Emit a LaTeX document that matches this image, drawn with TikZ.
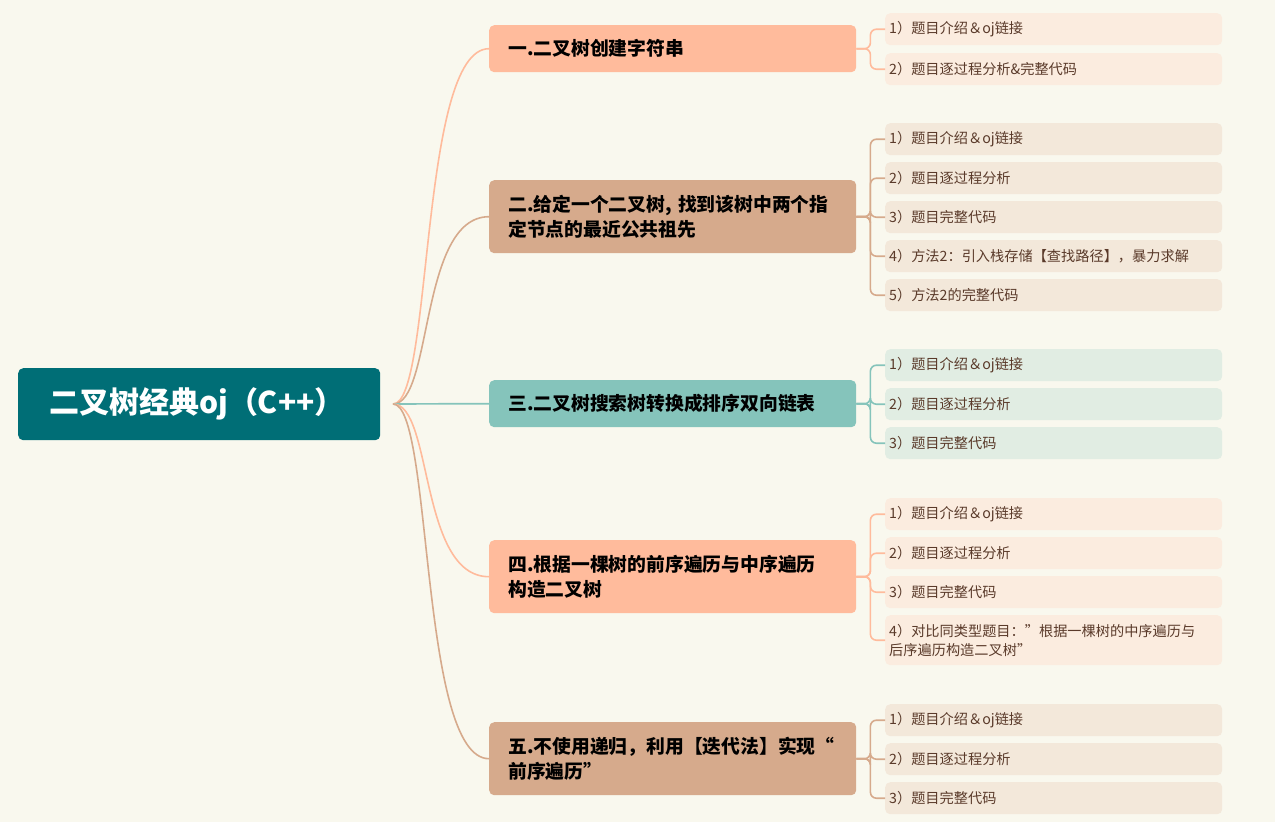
\documentclass[tikz,border=0pt]{standalone}
\usepackage{fontspec}
\setmainfont{Noto Sans CJK SC}
\begin{document}
\begin{tikzpicture}[x=1pt,y=-1pt,
  leaf/.style={fill=#1,rounded corners=5pt,minimum width=337pt,minimum height=32pt,text width=329pt,inner xsep=4pt,align=left,anchor=north west,font=\fontsize{14.2}{19}\selectfont,text=leaftxt},
  mainbox/.style={fill=#1,rounded corners=5pt,minimum width=367pt,text width=345pt,inner xsep=11pt,align=left,anchor=north west,font=\fontsize{18.8}{25}\selectfont\bfseries,text=black},
  conn/.style={draw=#1,line width=1.6pt},
  lconn/.style={draw=#1,line width=1.6pt,rounded corners=6pt}]
\definecolor{bg}{HTML}{F9F8EE}
\definecolor{roott}{HTML}{006E76}
\definecolor{salm}{HTML}{FFBB9C}
\definecolor{tan}{HTML}{D6AA8C}
\definecolor{teal}{HTML}{85C4BB}
\definecolor{lsalm}{HTML}{FBECDF}
\definecolor{ltan}{HTML}{F3E8DA}
\definecolor{lteal}{HTML}{E1EDE3}
\definecolor{leaftxt}{HTML}{5A3A2A}
\fill[bg] (0,0) rectangle (1275,822);
\useasboundingbox (0,0) rectangle (1275,822);
\node[fill=roott,rounded corners=5pt,minimum width=362pt,minimum height=72pt,text width=330pt,inner xsep=16pt,align=left,anchor=north west,font=\fontsize{30}{32}\selectfont\bfseries,text=white] (root) at (18,368) {\hspace*{15pt}二叉树经典oj（C++）};
\node[mainbox=salm,minimum height=47pt] (m1) at (489,25) {\hspace*{8pt}一.二叉树创建字符串};
\node[mainbox=tan,minimum height=73pt] (m2) at (489,180) {\hspace*{8pt}二.给定一个二叉树, 找到该树中两个指\\\hspace*{8pt}定节点的最近公共祖先};
\node[mainbox=teal,minimum height=47pt] (m3) at (489,380) {\hspace*{8pt}三.二叉树搜索树转换成排序双向链表};
\node[mainbox=salm,minimum height=73pt] (m4) at (489,540) {\hspace*{8pt}四.根据一棵树的前序遍历与中序遍历\\\hspace*{8pt}构造二叉树};
\node[mainbox=tan,minimum height=73pt] (m5) at (489,722) {\hspace*{8pt}五.不使用递归，利用【迭代法】实现“\\\hspace*{8pt}前序遍历"};
\coordinate (rs) at (393,404);
\foreach \m/\c in {m1/salm,m2/tan,m3/teal,m4/salm,m5/tan}{
  \draw[conn=\c] (rs) .. controls +(40,0) and +(-70,0) .. (\m.west);
}
% leaves
\node[leaf=lsalm] (a1) at (885,13) {1）题目介绍＆oj链接};
\node[leaf=lsalm] (a2) at (885,53) {2）题目逐过程分析\&完整代码};
\node[leaf=ltan] (b1) at (885,123) {1）题目介绍＆oj链接};
\node[leaf=ltan] (b2) at (885,162) {2）题目逐过程分析};
\node[leaf=ltan] (b3) at (885,201) {3）题目完整代码};
\node[leaf=ltan] (b4) at (885,240) {4）方法2：引入栈存储【查找路径】，暴力求解};
\node[leaf=ltan] (b5) at (885,279) {5）方法2的完整代码};
\node[leaf=lteal] (c1) at (885,349) {1）题目介绍＆oj链接};
\node[leaf=lteal] (c2) at (885,388) {2）题目逐过程分析};
\node[leaf=lteal] (c3) at (885,427) {3）题目完整代码};
\node[leaf=lsalm] (d1) at (885,498) {1）题目介绍＆oj链接};
\node[leaf=lsalm] (d2) at (885,537) {2）题目逐过程分析};
\node[leaf=lsalm] (d3) at (885,576) {3）题目完整代码};
\node[leaf=lsalm,minimum height=50pt] (d4) at (885,615) {4）对比同类型题目："根据一棵树的中序遍历与\\后序遍历构造二叉树"};
\node[leaf=ltan] (e1) at (885,704) {1）题目介绍＆oj链接};
\node[leaf=ltan] (e2) at (885,743) {2）题目逐过程分析};
\node[leaf=ltan] (e3) at (885,782) {3）题目完整代码};
\foreach \m/\c/\l in {m1/salm/{a1,a2},m2/tan/{b1,b2,b3,b4,b5},m3/teal/{c1,c2,c3},m4/salm/{d1,d2,d3,d4},m5/tan/{e1,e2,e3}}{
  \foreach \x in \l { \draw[lconn=\c] (\m.east) -- ++(14,0) |- (\x.west); }
}
\end{tikzpicture}
\end{document}
